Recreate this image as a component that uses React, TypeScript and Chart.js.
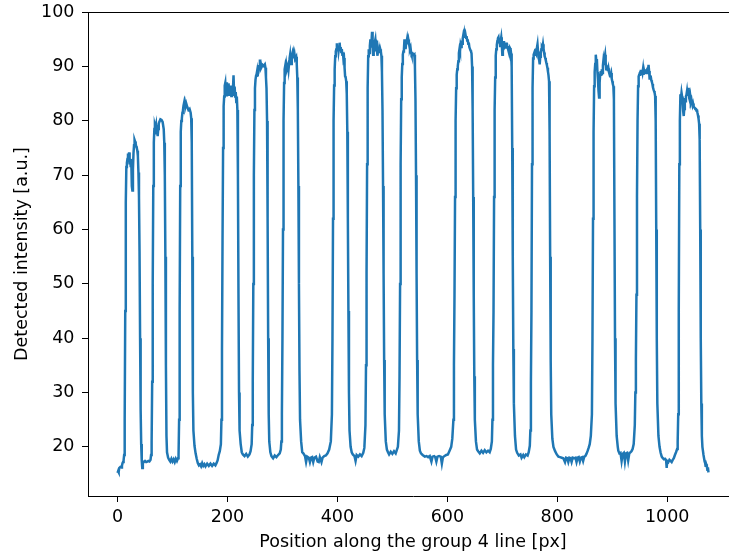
import { useEffect, useRef } from "react";
import { Chart, registerables } from "chart.js";

Chart.register(...registerables);

const xTicks = [0, 200, 400, 600, 800, 1000];
const yTicks = [20, 30, 40, 50, 60, 70, 80, 90, 100];
const xTitle = "Position along the group 4 line [px]";
const yTitle = "Detected intensity [a.u.]";

type P = [number, number];

const seg0: P[] = [[0,15.2],[1,15.5],[2,15.3],[3,16.1],[5,16.3],[7,16.2],[8,16.5],[9,17.0],[10,17.2],[11,17.5],[12,18.5]];
const bar01: P[] = [[13,25],[14,45],[15,65],[16,71.5],[17,72.3],[18,73],[19,74],[20,72.5],[21,74.2],[22,72],[23,73],[24,71.5],[25,72.5],[26,68],[27,67.2],[28,71],[29,74],[30,75.5],[31,76.5],[32,76.2],[33,75.8],[34,75.3],[35,75],[36,74.5],[37,73.5],[38,70.5],[39,66],[40,56],[41,40],[42,27],[43,20.5],[44,17.5],[45,16.1],[46,17.3],[48,17.2],[50,17.4],[52,17.2],[54,17.3],[56,17.4],[58,17.3],[60,17.6],[61,18.5],[62,21]];
const bar02: P[] = [[63,32],[64,50],[65,68],[66,76],[67,78.5],[68,79.2],[69,78.8],[70,79.3],[71,77.5],[72,78.8],[73,77.2],[74,78.5],[75,79.5],[76,79.8],[78,80.3],[80,80.2],[82,79.8],[84,78.5],[85,76],[86,70],[87,55],[88,35],[89,22],[90,19],[92,18],[94,17.6],[96,17.3],[98,17.8],[100,17.3],[102,17.7],[104,17.2],[106,17.8],[108,17.4],[110,17.9],[111,18.5]];
const bar03: P[] = [[112,25],[113,45],[114,68],[115,78],[116,80],[117,80.5],[118,81.5],[119,82],[120,82.8],[121,83.3],[122,82.5],[123,83.3],[124,82.8],[125,83.2],[127,82.5],[129,82],[131,82.2],[133,81.5],[134,80.5],[135,76],[136,55],[137,30],[138,23],[140,20.2],[142,18.8],[144,17.8],[146,17],[148,16.6],[150,16.8],[152,16.4],[154,17],[156,16.5],[158,16.8],[160,16.4],[163,16.9],[166,16.5],[169,16.9],[172,16.5],[175,16.9],[178,16.6],[180,17],[182,17.5],[184,18.5],[186,19.2],[188,20.5]];
const bar04: P[] = [[189,25],[190,38],[191,58],[192,75],[193,82.7],[194,84.5],[195,86.5],[196,87],[197,85],[198,87.1],[199,84.5],[200,86.8],[201,85.2],[202,86.9],[203,84.8],[204,86],[205,85],[206,86.5],[207,84.6],[208,85.5],[209,84.8],[210,86],[211,88.4],[212,85],[213,86.3],[214,84.5],[215,85.3],[216,83.5],[217,84.5],[218,82],[219,70],[220,48],[221,30],[222,23],[224,20.5],[226,19],[228,18.6],[231,18.3],[234,18.7],[237,18.2],[240,18.6],[242,19.2],[244,20.5]];
const bar05: P[] = [[245,24],[246,32],[247,50],[248,70],[249,82],[250,86],[251,87.6],[252,88.3],[253,88.6],[254,89.2],[255,88.2],[256,89.5],[257,90.3],[258,89.8],[259,91.3],[260,90],[261,90.4],[262,89.9],[264,90.3],[266,90.1],[268,90.4],[269,89.8],[270,88],[271,86],[272,80],[273,62],[274,40],[275,26],[276,21],[278,19],[280,18.3],[283,17.9],[286,18.4],[289,18.1],[292,18.5],[295,18.8],[297,19.5],[298,21]];
const bar06: P[] = [[299,26],[300,40],[301,60],[302,80],[303,87],[304,89.5],[305,90.1],[306,89.4],[307,90.3],[308,89.5],[310,90.2],[311,89.4],[312,90.5],[313,91.5],[314,92.2],[315,91],[316,90.5],[317,91.8],[318,92.3],[319,91.5],[320,92.3],[321,91.6],[322,92.2],[323,91.4],[325,91.8],[326,90.5],[327,88],[328,82],[329,68],[330,50],[331,34],[332,25],[334,21],[336,19],[338,18.8],[341,18.3],[343,17.2],[345,18.2],[348,18],[350,17.2],[352,18],[354,18.1],[356,17.2],[358,18],[361,18.2],[364,17.3],[366,17.2],[368,18.1],[371,17.2],[373,18],[376,18.3],[379,18.4],[382,18.8],[385,19.5],[388,21],[390,26]];
const bar07: P[] = [[391,40],[392,62],[393,80],[394,86.5],[395,89.5],[396,91.9],[397,92.8],[398,93.2],[399,94.3],[400,93],[401,93.8],[402,92.8],[403,93.6],[404,94.4],[405,93.2],[406,93.6],[407,92.7],[408,93.2],[409,92.2],[410,92.6],[411,91.3],[412,91.6],[413,89.8],[414,88.2],[415,88],[416,87.3],[417,85],[418,78],[419,62],[420,45],[421,30],[422,23],[424,20],[426,19],[428,18.6],[431,18.3],[433,17.4],[435,18.5],[438,18.2],[441,18.6],[444,18.3],[447,18.9],[449,19.8],[451,24]];
const bar08: P[] = [[452,35],[453,52],[454,72],[455,86],[456,91.9],[457,93.2],[458,92.5],[459,93.8],[460,95],[461,93.5],[462,94.5],[463,96.4],[464,93.8],[465,92.2],[466,93.5],[467,93],[468,94.5],[469,95],[470,93.6],[471,94.8],[472,92.8],[473,92],[474,93.5],[475,92.5],[476,93.2],[477,92.6],[478,93.2],[479,92.8],[480,92],[481,89],[482,82],[483,68],[484,52],[485,36],[486,26],[488,21],[490,19.5],[492,19],[494,18.6],[497,19.1],[500,18.7],[503,19.2],[506,18.8],[508,19.4],[510,20],[512,23]];
const bar09: P[] = [[513,33],[514,50],[515,72],[516,84],[517,88],[518,90.5],[519,92.2],[520,92.8],[521,93.2],[522,95],[523,94],[524,93.2],[525,94.3],[526,94.6],[527,95.2],[528,94.5],[529,95],[530,94.4],[531,93.8],[532,93.2],[533,93.5],[534,92.6],[535,92.2],[537,92.4],[539,92.1],[540,92.2],[541,90],[542,84],[543,70],[544,52],[545,36],[546,26],[548,21],[550,19.3],[552,18.8],[555,18.5],[559,18.2],[562,18.3],[565,18.1],[568,18.3],[571,17.3],[573,18.2],[576,18.3],[578,18.1],[580,17.3],[582,18.2],[585,18.3],[588,18.2],[590,16.9],[592,18.1],[595,18.3],[598,18.5],[601,18.6],[604,19.3],[607,20],[609,21.5],[611,25]];
const bar10: P[] = [[612,35],[613,48],[614,66],[615,80],[616,86],[617,88.5],[618,89.5],[619,90.1],[620,91],[621,92.5],[622,93.2],[623,92.8],[624,94],[625,93.6],[626,94.8],[627,94.2],[628,95.2],[629,95.8],[630,95.3],[631,96.1],[632,95.4],[633,95.9],[634,95.3],[635,95.6],[636,94.8],[637,95],[638,94.2],[639,94.4],[640,93.6],[641,93.6],[642,93],[643,92.8],[644,92.4],[645,90],[646,82],[647,66],[648,48],[649,33],[650,25],[652,21],[654,19.5],[656,19.2],[659,18.8],[662,19.3],[665,18.9],[668,19.4],[671,19],[674,19.3],[677,19],[679,19.6],[681,21],[682,25]];
const bar11: P[] = [[683,35],[684,45],[685,66],[686,82],[687,88],[688,92],[689,93.2],[690,94],[691,94.7],[692,95.2],[693,95.4],[694,94.5],[695,95],[696,93.8],[697,94.8],[698,95.4],[699,94.2],[700,92.2],[701,93.6],[702,94.5],[703,94.7],[704,93.6],[705,93.8],[706,94.4],[707,93.5],[708,94.4],[709,93.8],[710,93.4],[711,93.2],[712,92.8],[713,92.5],[714,93.4],[715,93.2],[716,92.4],[717,90],[718,75],[719,55],[720,38],[721,28],[723,22],[725,19.5],[727,18.9],[730,18.4],[733,18.6],[735,18],[738,18.5],[740,18.1],[743,18.6],[746,18.4],[748,19],[750,20.2],[751,23]];
const bar12: P[] = [[752,32],[753,45],[754,72],[755,86],[756,91.5],[757,92.2],[758,92.5],[759,92],[760,92.6],[761,92.4],[762,93.2],[763,93.5],[764,94.1],[765,92.8],[766,91.6],[767,91.2],[768,90.4],[769,91.8],[770,92.5],[771,93.2],[772,93.6],[773,93.4],[774,94.1],[775,93.3],[776,92.6],[777,91.9],[778,91.6],[779,91.2],[780,90.7],[781,90.3],[782,89.8],[783,89.1],[784,88.4],[785,87.3],[786,78],[787,55],[788,36],[789,26],[791,21.5],[793,20],[796,19.2],[799,18.6],[802,18.2],[805,18.1],[808,18],[811,17.9],[814,17.2],[816,18],[818,17.9],[820,17.2],[822,18],[824,17.9],[826,17.2],[828,18],[831,17.9],[833,18],[835,17.2],[837,18],[839,18.1],[841,17.3],[843,18],[845,18.1],[847,17.4],[849,18.2],[851,18.3],[853,18.7],[855,19.2],[857,19.8],[859,20.5],[861,22],[863,26]];
const bar13: P[] = [[864,40],[865,62],[866,78],[867,86.4],[868,89],[869,90.5],[870,92.2],[871,91],[872,91.4],[873,89],[874,87.6],[875,85.5],[876,84.3],[877,87],[878,88.5],[879,89.2],[880,88.6],[881,89.5],[882,88.8],[883,90.2],[884,91.2],[885,90.5],[886,91.6],[887,92.2],[888,90.8],[889,89.5],[890,90],[891,89.8],[892,89.2],[893,89.7],[894,89],[895,88.6],[896,88.2],[897,88.4],[898,88.8],[899,87.8],[900,87.3],[901,86.8],[902,86.4],[903,84],[904,62],[905,40],[906,28],[908,22],[910,20],[911,19.3],[913,18.8],[915,18.9],[917,17.4],[919,18.7],[921,18.9],[923,17.3],[925,18.8],[927,18.9],[929,17.5],[931,18.8],[933,19],[935,19.2],[937,19.6],[939,20.5],[941,24]];
const bar14: P[] = [[942,30],[943,36],[944,48],[945,66],[946,80],[947,86.4],[948,88.2],[949,88.5],[950,88.8],[951,89],[952,89.4],[953,88.6],[954,89.4],[955,88.9],[956,89.6],[957,88.5],[958,89.2],[959,88.7],[960,89.2],[961,89.5],[962,88.8],[963,89.4],[964,89.6],[965,88.9],[966,90.3],[967,89.2],[968,87.6],[969,88.3],[970,88.2],[971,87.5],[972,87.2],[973,86.8],[974,86.2],[975,85.8],[976,85.5],[977,85.2],[978,84.6],[979,80],[980,60],[981,40],[982,28],[984,22],[986,20],[988,18.9],[990,18.2],[992,17.9],[994,17.7],[996,17.8],[998,17.5],[999,16.1],[1000,17.4],[1002,17.2],[1004,17.6],[1006,17.4],[1008,17.2],[1010,17.6],[1012,17.9],[1014,18.5],[1016,19],[1018,19.6],[1019,21],[1020,26]];
const bar15: P[] = [[1021,45],[1022,72],[1023,80],[1024,84.9],[1025,84.2],[1026,85.2],[1027,84.5],[1028,83.5],[1029,81.8],[1030,80.9],[1031,82.2],[1032,84.2],[1033,83.6],[1034,84.5],[1035,84.8],[1036,85.5],[1037,84.6],[1038,86.1],[1039,85.2],[1040,84.2],[1041,83.8],[1042,84.5],[1043,83.6],[1044,83.9],[1045,83.2],[1046,82.8],[1047,83.2],[1048,82.7],[1049,82.5],[1050,82.4],[1051,82.2],[1052,82.4],[1053,81.9],[1054,82.1],[1055,81.5],[1056,81],[1057,80.4],[1058,79.5],[1059,76.6],[1060,60],[1061,40],[1062,28],[1063,22],[1064,20],[1066,18.5],[1068,17.3],[1069,17],[1070,16.3],[1071,16.8],[1072,16.5],[1073,15.8],[1074,16.2],[1075,15.3]];

const segments: P[][] = [seg0, bar01, bar02, bar03, bar04, bar05, bar06, bar07, bar08, bar09, bar10, bar11, bar12, bar13, bar14, bar15];

const FONT = "'DejaVu Sans', sans-serif";

export default function App() {
  const ref = useRef<HTMLCanvasElement | null>(null);

  useEffect(() => {
    if (!ref.current) return;
    const pts = segments.flat().map(([x, y]) => ({ x, y }));
    const topSpine = {
      id: "topSpine",
      afterDraw(chart: any) {
        const { ctx, chartArea } = chart;
        ctx.save();
        ctx.strokeStyle = "#000";
        ctx.lineWidth = 1;
        ctx.beginPath();
        ctx.moveTo(chartArea.left, chartArea.top + 0.5);
        ctx.lineTo(chartArea.right, chartArea.top + 0.5);
        ctx.stroke();
        ctx.restore();
      },
    };
    const chart = new Chart(ref.current, {
      type: "line",
      data: {
        datasets: [
          {
            data: pts,
            borderColor: "#1f77b4",
            borderWidth: 2.5,
            pointRadius: 0,
            tension: 0,
            fill: false,
          },
        ],
      },
      options: {
        animation: false,
        responsive: false,
        devicePixelRatio: 1,
        layout: { padding: { left: 0, top: 12, right: 22, bottom: 0 } },
        plugins: { legend: { display: false }, tooltip: { enabled: false } },
        scales: {
          x: {
            type: "linear",
            min: -53.75,
            max: 1128.75,
            afterBuildTicks: (s: any) => {
              s.ticks = xTicks.map((v) => ({ value: v }));
            },
            afterFit: (s: any) => {
              s.height = 62;
              s.paddingLeft = 0;
              s.paddingRight = 0;
            },
            grid: { display: true, drawOnChartArea: false, drawTicks: true, tickLength: 6, color: "#000", lineWidth: 1 },
            border: { display: true, color: "#000", width: 1 },
            ticks: { color: "#000", font: { family: FONT, size: 17.5 }, padding: 5, maxRotation: 0, autoSkip: false, callback: (v: any) => String(v) },
            title: { display: true, text: xTitle, color: "#000", font: { family: FONT, size: 17.5 }, padding: { top: 0, bottom: 5 } },
          },
          y: {
            type: "linear",
            min: 10.95,
            max: 100.05,
            afterBuildTicks: (s: any) => {
              s.ticks = yTicks.map((v) => ({ value: v }));
            },
            afterFit: (s: any) => {
              s.width = 88;
              s.paddingTop = 0;
              s.paddingBottom = 0;
            },
            grid: { display: true, drawOnChartArea: false, drawTicks: true, tickLength: 6, color: "#000", lineWidth: 1 },
            border: { display: true, color: "#000", width: 1 },
            ticks: { color: "#000", font: { family: FONT, size: 17.5 }, padding: 7.5, autoSkip: false, callback: (v: any) => String(v) },
            title: { display: true, text: yTitle, color: "#000", font: { family: FONT, size: 17.5 }, padding: { top: 11.8, bottom: 0 } },
          },
        },
      },
      plugins: [topSpine],
    } as any);
    return () => chart.destroy();
  }, []);

  return (
    <div style={{ position: "fixed", left: 0, top: 0, width: 729, height: 558, overflow: "hidden", background: "#fff" }}>
      <canvas ref={ref} width={760} height={558} style={{ display: "block" }} />
    </div>
  );
}
